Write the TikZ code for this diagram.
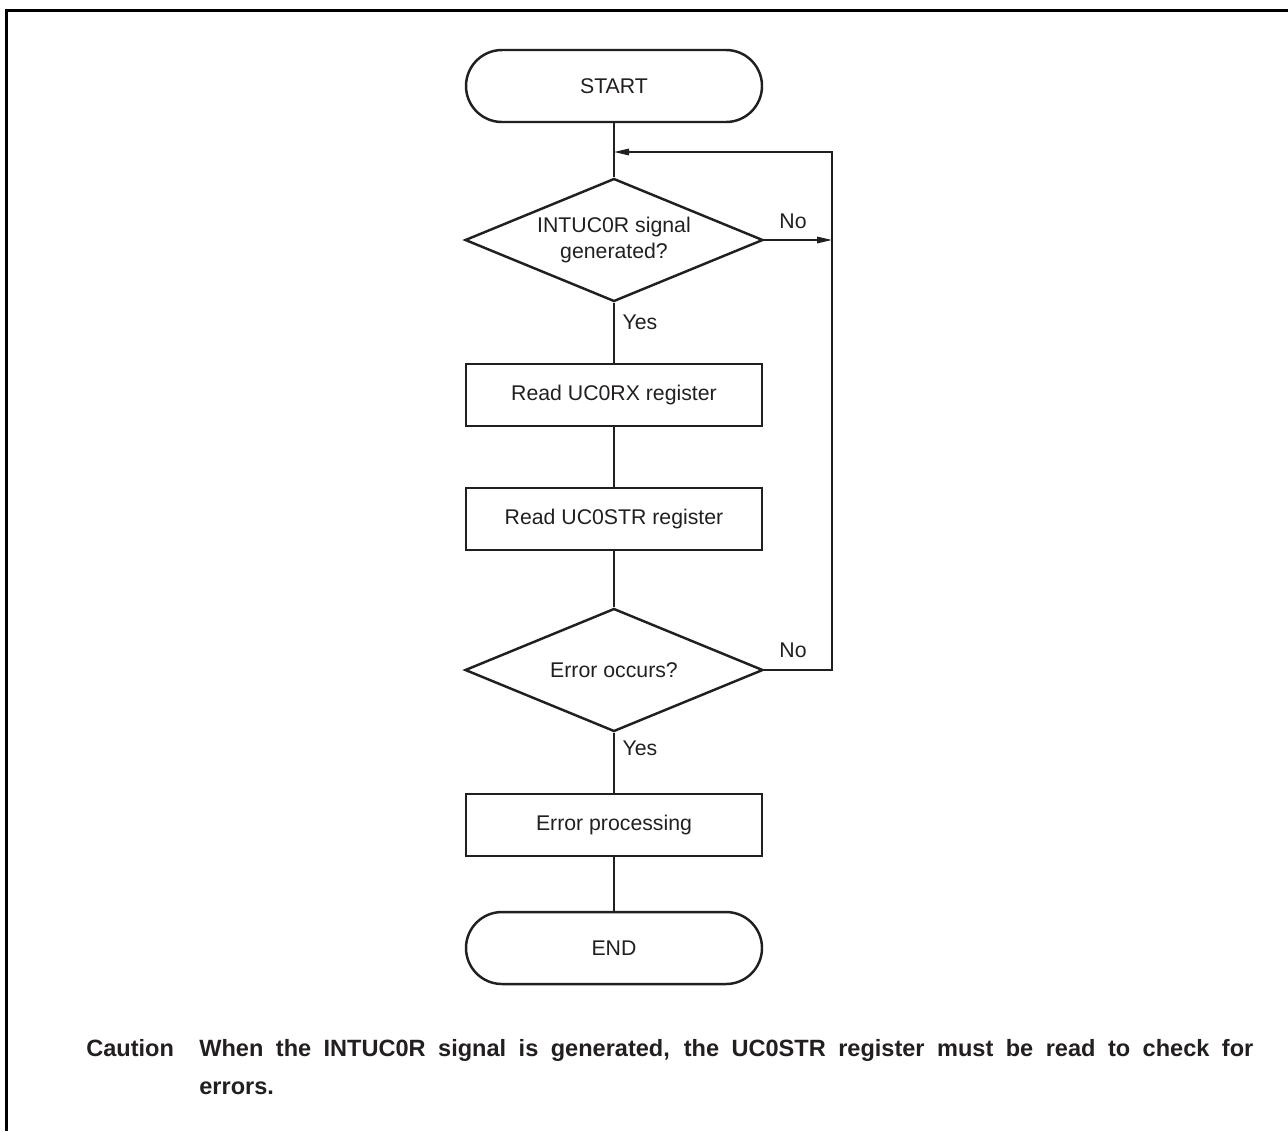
\documentclass[tikz,border=0pt]{standalone}
\usepackage{fontspec}
\setmainfont{Liberation Sans}
\usetikzlibrary{shapes.geometric, arrows.meta, positioning, calc}
\definecolor{flowInk}{RGB}{35,31,32}

\begin{document}
\begin{tikzpicture}[
      term/.style={draw=flowInk, line width=1.4pt, rounded corners=0.72cm, minimum width=5.92cm, minimum height=1.44cm, font=\fontsize{12.1}{14}\selectfont, text=flowInk},
      proc/.style={draw=flowInk, line width=1.3pt, minimum width=5.92cm, minimum height=1.24cm, font=\fontsize{12.1}{14}\selectfont, text=flowInk},
      decide/.style={diamond, aspect=2.42, draw=flowInk, line width=1.4pt, minimum width=5.96cm, minimum height=2.46cm, inner sep=0pt, align=center, font=\fontsize{12.1}{15}\selectfont, text=flowInk},
      lbl/.style={font=\fontsize{12.1}{14}\selectfont, text=flowInk},
      link/.style={draw=flowInk, line width=0.85pt},
      arrow/.style={link, -{Triangle[length=0.3cm, width=0.13cm]}}
    ]
    \useasboundingbox (0,0) rectangle (25.76,-22.62);
    % frame
    \draw[line width=0.06cm] (0.13,-22.62) -- (0.13,-0.2) -- (25.76,-0.2);

    \node[term] (start) at (12.28,-1.72) {START};
    \node[decide] (sig) at (12.28,-4.8) {INTUC0R signal\\generated?};
    \node[proc] (readrx) at (12.28,-7.9) {Read UC0RX register};
    \node[proc] (readstr) at (12.28,-10.38) {Read UC0STR register};
    \node[decide] (err) at (12.28,-13.4) {Error occurs?};
    \node[proc] (errproc) at (12.28,-16.5) {Error processing};
    \node[term] (finish) at (12.28,-18.96) {END};

    \coordinate (back) at (16.64,-3.04);
    \coordinate (join) at (12.28,-3.04);

    \draw[link] (start) -- (sig);
    \draw[link] (sig) -- (readrx);
    \draw[link] (readrx) -- (readstr);
    \draw[link] (readstr) -- (err);
    \draw[link] (err) -- (errproc);
    \draw[link] (errproc) -- (finish);
    \draw[arrow] (sig.east) -- (sig.east -| back);
    \draw[arrow] (err.east) -| (back) -- (join);

    \node[lbl] (signo) at (15.86,-4.42) {No};
    \node[lbl] (sigyes) at (12.8,-6.44) {Yes};
    \node[lbl] (errno) at (15.86,-13.0) {No};
    \node[lbl] (erryes) at (12.8,-14.96) {Yes};

    \node[anchor=base west, text width=23.34cm, align=justify, inner sep=0pt, text=flowInk,
      font=\fontsize{13.4}{22}\selectfont\bfseries] (caution) at (1.72,-21.12)
      {\hangindent=2.26cm \hangafter=1 \makebox[2.26cm][l]{Caution}When the INTUC0R signal is generated, the UC0STR register must be read to check for\linebreak errors.\par};
  \end{tikzpicture}
\end{document}
